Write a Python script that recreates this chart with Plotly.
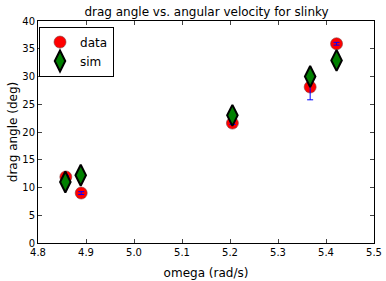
import plotly.graph_objects as go

omega_data = [4.858, 4.890, 5.205, 5.367, 5.422]
angle_data = [11.9, 9.0, 21.6, 28.1, 35.9]
angle_err = [0.25, 0.25, 0.25, 2.3, 0.25]
omega_sim = [4.857, 4.889, 5.205, 5.367, 5.422]
angle_sim = [11.0, 12.2, 23.0, 30.0, 32.9]

font = "DejaVu Sans"
fig = go.Figure()
fig.add_trace(go.Scatter(
    x=omega_data, y=angle_data, mode="markers", name="data",
    marker=dict(symbol="circle", size=12, color="red", line=dict(color="#7f3f3f", width=0.6)),
))
fig.add_trace(go.Scatter(
    x=omega_data, y=angle_data, mode="markers", name="data err", showlegend=False,
    marker=dict(size=1, color="rgba(0,0,0,0)"),
    error_y=dict(type="data", array=angle_err, color="blue", thickness=1, width=3),
))
fig.add_trace(go.Scatter(
    x=omega_sim, y=angle_sim, mode="markers", name="sim",
    marker=dict(symbol="diamond-tall", size=15, color="green", line=dict(color="black", width=2)),
))
fig.update_layout(
    width=386, height=281,
    margin=dict(l=38, r=12, t=21, b=38),
    paper_bgcolor="white", plot_bgcolor="white",
    font=dict(family=font, size=10, color="black"),
    title=dict(text="drag angle vs. angular velocity for slinky", x=0.535, xanchor="center",
               y=1 - 12/281, yanchor="middle", font=dict(size=12)),
    showlegend=True,
    legend=dict(x=0.003, y=0.975, xanchor="left", yanchor="top", bordercolor="black", borderwidth=1,
                bgcolor="white", font=dict(size=12), tracegroupgap=0, itemwidth=30),
)
fig.update_xaxes(range=[4.8, 5.5], dtick=0.1, tickformat=".1f", ticks="inside", ticklen=4, automargin=False,
                 showline=True, linecolor="black", linewidth=1, mirror="ticks", showgrid=False, zeroline=False,
                 title=dict(text="omega (rad/s)", standoff=11))
fig.update_yaxes(range=[0, 40], dtick=5, ticks="inside", ticklen=4, automargin=False,
                 showline=True, linecolor="black", linewidth=1, mirror="ticks", showgrid=False, zeroline=False,
                 title=dict(text="drag angle (deg)", standoff=2))
fig.write_html("out.html", config={"displayModeBar": False},
               post_script="document.body.style.margin='0';document.body.style.overflow='hidden';")
